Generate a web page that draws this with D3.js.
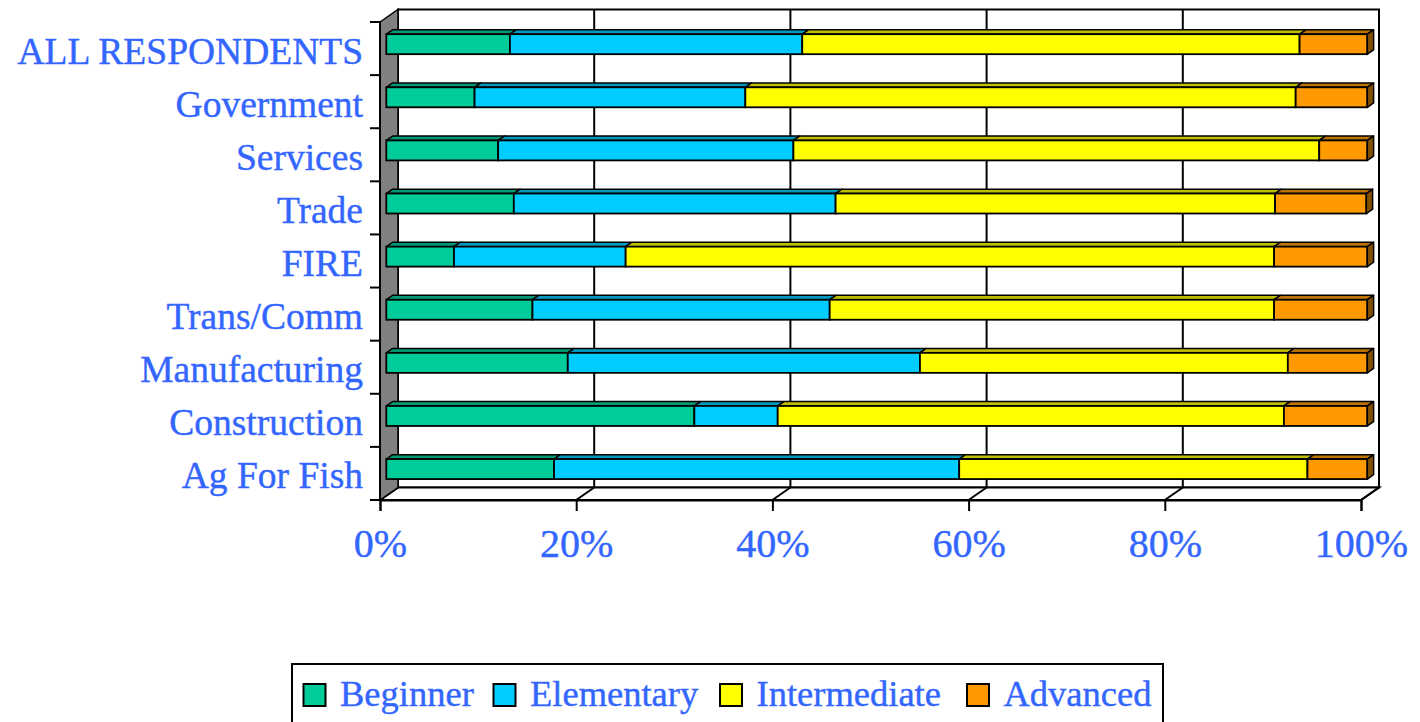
<!DOCTYPE html>
<html>
<head>
<meta charset="utf-8">
<script src="https://cdn.jsdelivr.net/npm/d3@7"></script>
<style>
  html, body { margin: 0; padding: 0; background: #ffffff; }
  svg { display: block; }
</style>
</head>
<body>
<svg id="chart" width="1420" height="722"></svg>
<script>
// Industry groups, top to bottom
const categories = [
  "ALL RESPONDENTS", "Government", "Services", "Trade", "FIRE",
  "Trans/Comm", "Manufacturing", "Construction", "Ag For Fish"
];
// Proficiency levels (stack order, left to right)
const levels = ["Beginner", "Elementary", "Intermediate", "Advanced"];
// Percent of respondents at each level, per industry group
const beginner     = [12.6,  9.0, 11.4, 13.0,  6.9, 14.9, 18.5, 31.4, 17.1];
const elementary   = [29.8, 27.6, 30.1, 32.8, 17.5, 30.3, 35.9,  8.5, 41.3];
const intermediate = [50.7, 56.1, 53.6, 44.8, 66.1, 45.3, 37.5, 51.6, 35.5];
const advanced     = [ 6.9,  7.3,  4.9,  9.3,  9.5,  9.5,  8.1,  8.5,  6.1];
const xTicks = [0, 20, 40, 60, 80, 100];

const frontColors = ["#00CC99", "#00CCFF", "#FFFF00", "#FF9900"];
const topColors   = ["#009975", "#0099C0", "#BFBF00", "#BF7300"];
const sideColor   = "#805000";
const textColor   = "#3366FF";
const fontFamily  = "'Liberation Serif', 'Times New Roman', serif";

const rows = categories.map((c, i) => ({
  category: c,
  Beginner: beginner[i],
  Elementary: elementary[i],
  Intermediate: intermediate[i],
  Advanced: advanced[i]
}));

const svg = d3.select("#chart");

// Front plane of the 3-D box
const plotL = 380, plotR = 1361, plotT = 22, plotB = 500;
// Full depth of the box (towards the back wall)
const DX = 18, DY = -12.5;
// Bars sit between these fractions of the depth
const barFront = 0.35, barBack = 0.70;

const x = d3.scaleLinear().domain([0, 100]).range([plotL, plotR]);
const y = d3.scaleBand().domain(categories).range([plotT, plotB]).paddingInner(0).paddingOuter(0);
const barH = 20;

const stack = d3.stack().keys(levels);
const series = stack(rows);

const pts = p => p.map(q => q.join(",")).join(" ");

// ---- back wall
const bwL = plotL + DX, bwR = plotR + DX, bwT = plotT + DY, bwB = plotB + DY;
svg.append("rect")
  .attr("x", bwL).attr("y", bwT).attr("width", bwR - bwL).attr("height", bwB - bwT)
  .attr("fill", "#ffffff").attr("stroke", "#000").attr("stroke-width", 2);

// vertical gridlines on the back wall
svg.append("g").selectAll("line")
  .data(xTicks.slice(1, -1))
  .join("line")
  .attr("x1", d => x(d) + DX).attr("x2", d => x(d) + DX)
  .attr("y1", bwT).attr("y2", bwB)
  .attr("stroke", "#000").attr("stroke-width", 2);

// ---- floor
svg.append("polygon")
  .attr("points", pts([[plotL, plotB], [plotR, plotB], [plotR + DX, plotB + DY], [plotL + DX, plotB + DY]]))
  .attr("fill", "#ffffff").attr("stroke", "#000").attr("stroke-width", 2);
svg.append("g").selectAll("line")
  .data(xTicks)
  .join("line")
  .attr("x1", d => x(d)).attr("y1", plotB)
  .attr("x2", d => x(d) + DX).attr("y2", plotB + DY)
  .attr("stroke", "#000").attr("stroke-width", 2);

// ---- side wall
svg.append("polygon")
  .attr("points", pts([[plotL, plotT], [plotL + DX, plotT + DY], [plotL + DX, plotB + DY], [plotL, plotB]]))
  .attr("fill", "#808080").attr("stroke", "#000").attr("stroke-width", 1.5);

// ---- bars
const fdx = DX * barFront, fdy = DY * barFront;
const ddx = DX * (barBack - barFront), ddy = DY * (barBack - barFront);

const layer = svg.append("g").selectAll("g")
  .data(series)
  .join("g");

layer.each(function (s, si) {
  const g = d3.select(this);
  s.forEach((d, ri) => {
    const cat = categories[ri];
    const x0 = x(d[0]) + fdx, x1 = x(d[1]) + fdx;
    const yc = y(cat) + y.bandwidth() / 2 + fdy;
    const yT = yc - barH / 2, yB = yc + barH / 2;
    // top face
    g.append("polygon")
      .attr("points", pts([[x0, yT], [x1, yT], [x1 + ddx, yT + ddy], [x0 + ddx, yT + ddy]]))
      .attr("fill", topColors[si]).attr("stroke", "#000").attr("stroke-width", 1.5)
      .attr("stroke-linejoin", "round");
    // front face
    g.append("rect")
      .attr("x", x0).attr("y", yT).attr("width", x1 - x0).attr("height", barH)
      .attr("fill", frontColors[si]).attr("stroke", "#000").attr("stroke-width", 1.8);
    // end face of the last segment
    if (si === series.length - 1) {
      g.append("polygon")
        .attr("points", pts([[x1, yT], [x1 + ddx, yT + ddy], [x1 + ddx, yB + ddy], [x1, yB]]))
        .attr("fill", sideColor).attr("stroke", "#000").attr("stroke-width", 1.5)
        .attr("stroke-linejoin", "round");
    }
  });
});

// ---- category axis (front edge of the side wall)
const catTicks = d3.range(categories.length + 1).map(i => plotT + i * y.step());
svg.append("line")
  .attr("x1", plotL).attr("x2", plotL).attr("y1", plotT).attr("y2", plotB)
  .attr("stroke", "#000").attr("stroke-width", 2);
svg.append("g").selectAll("line")
  .data(catTicks)
  .join("line")
  .attr("x1", plotL - 10).attr("x2", plotL)
  .attr("y1", d => d).attr("y2", d => d)
  .attr("stroke", "#000").attr("stroke-width", 2);

svg.append("g").selectAll("text")
  .data(categories)
  .join("text")
  .attr("x", 363)
  .attr("y", d => y(d) + y.bandwidth() / 2 + 15)
  .attr("text-anchor", "end")
  .attr("font-family", fontFamily)
  .attr("font-size", 37.5)
  .attr("fill", textColor)
  .attr("stroke", textColor).attr("stroke-width", 0.4)
  .text(d => d);

// ---- value axis (front edge of the floor)
const xAxis = d3.axisBottom(x)
  .tickValues(xTicks)
  .tickFormat(d => d + "%")
  .tickSize(11)
  .tickPadding(20);
const gx = svg.append("g")
  .attr("transform", `translate(0,${plotB})`)
  .call(xAxis);
gx.select(".domain").attr("stroke", "#000").attr("stroke-width", 2);
gx.selectAll(".tick line").attr("stroke", "#000").attr("stroke-width", 2);
gx.selectAll(".tick text")
  .attr("font-family", fontFamily)
  .attr("font-size", 40)
  .attr("fill", textColor)
  .attr("stroke", textColor).attr("stroke-width", 0.4)
  .attr("dy", null)
  .attr("y", 57);

// ---- legend
const legend = svg.append("g");
legend.append("rect")
  .attr("x", 292).attr("y", 664).attr("width", 871).attr("height", 80)
  .attr("fill", "#ffffff").attr("stroke", "#000").attr("stroke-width", 2);

// left edge of each legend entry
const legendX = [303.5, 493.5, 720, 967];
levels.forEach((name, i) => {
  legend.append("rect")
    .attr("x", legendX[i]).attr("y", 684).attr("width", 22).attr("height", 22)
    .attr("fill", frontColors[i]).attr("stroke", "#000").attr("stroke-width", 2);
  legend.append("text")
    .attr("x", legendX[i] + 36.5).attr("y", 706)
    .attr("font-family", fontFamily)
    .attr("font-size", 36.5)
    .attr("fill", textColor)
    .attr("stroke", textColor).attr("stroke-width", 0.4)
    .text(name);
});
</script>
</body>
</html>
